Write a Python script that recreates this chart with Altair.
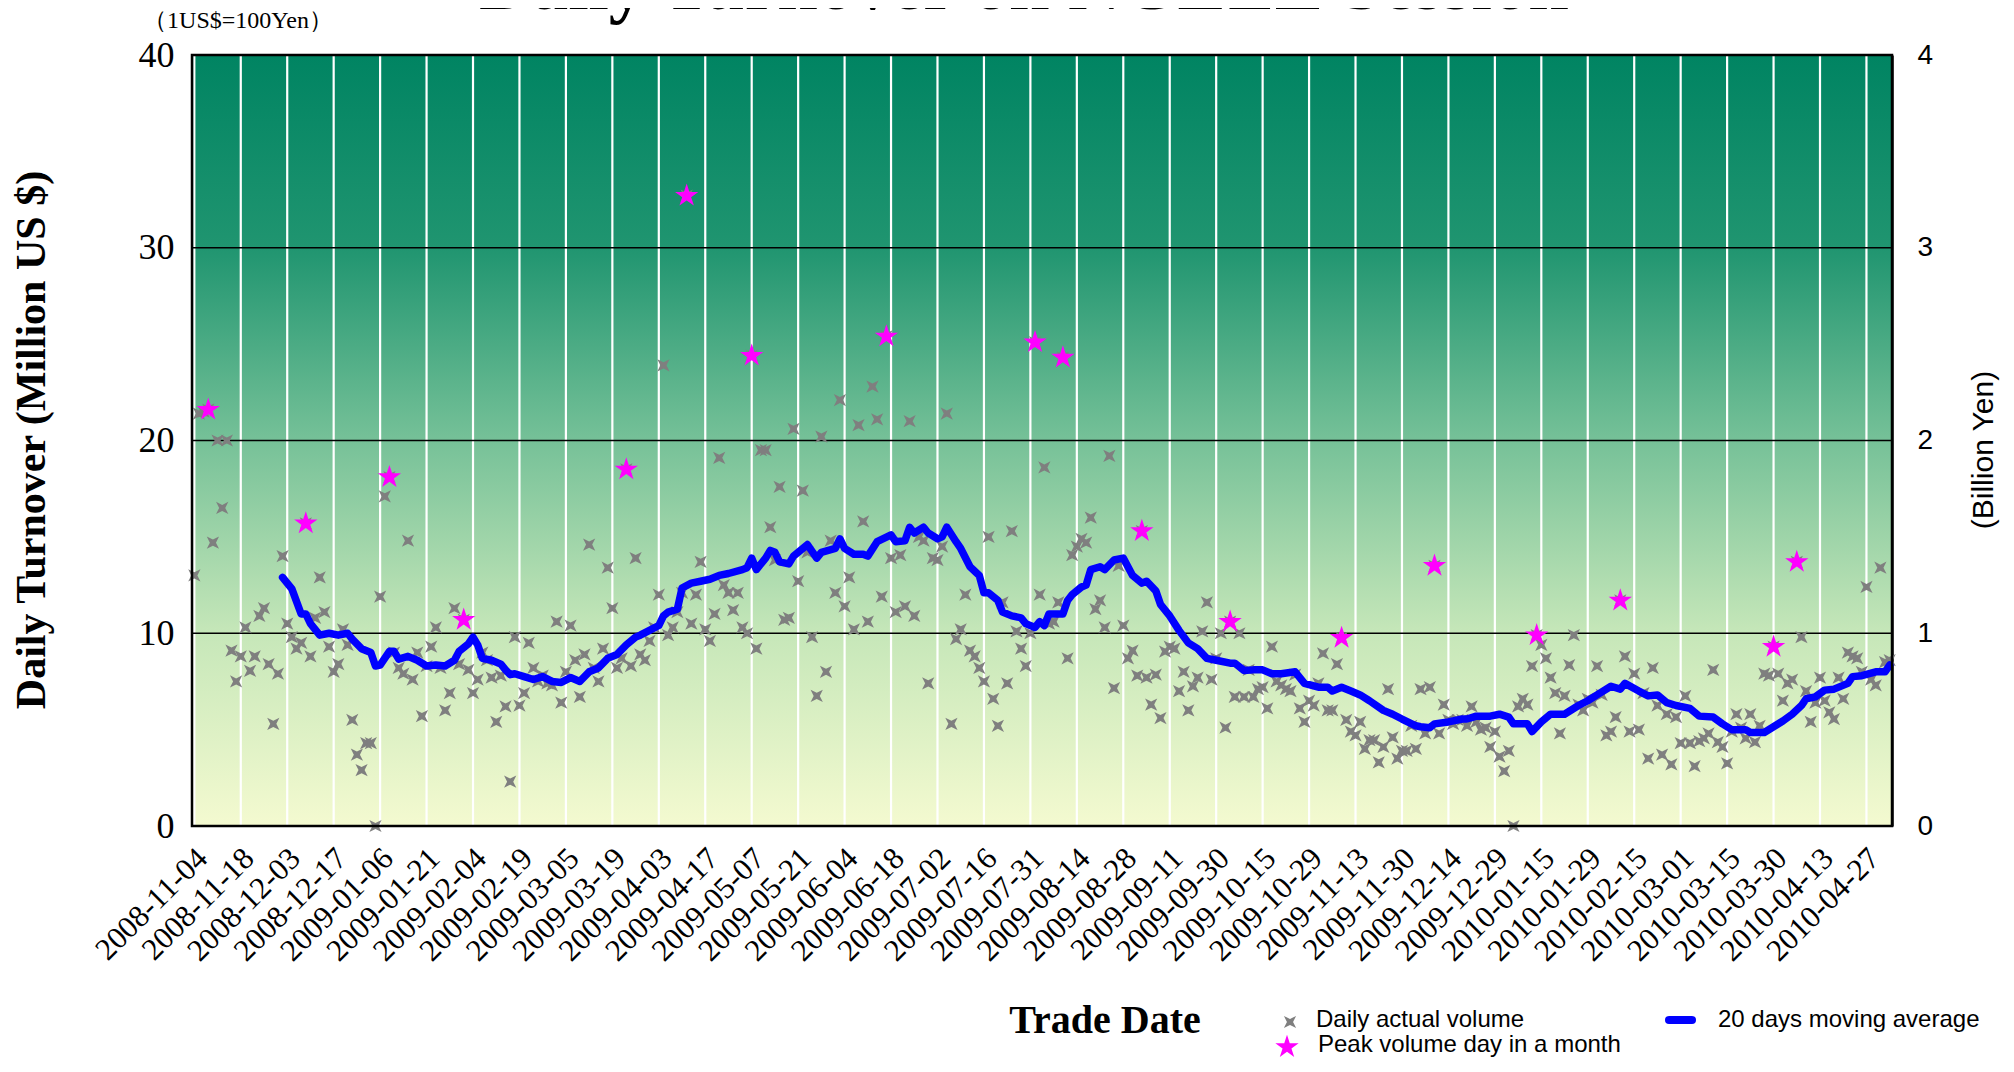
import altair as alt
import pandas as pd

# ---------------- data ----------------
date_labels = ["2008-11-04", "2008-11-18", "2008-12-03", "2008-12-17", "2009-01-06",
               "2009-01-21", "2009-02-04", "2009-02-19", "2009-03-05", "2009-03-19",
               "2009-04-03", "2009-04-17", "2009-05-07", "2009-05-21", "2009-06-04",
               "2009-06-18", "2009-07-02", "2009-07-16", "2009-07-31", "2009-08-14",
               "2009-08-28", "2009-09-11", "2009-09-30", "2009-10-15", "2009-10-29",
               "2009-11-13", "2009-11-30", "2009-12-14", "2009-12-29", "2010-01-15",
               "2010-01-29", "2010-02-15", "2010-03-01", "2010-03-15", "2010-03-30",
               "2010-04-13", "2010-04-27"]
label_step = 10  # trading days between two date labels

# daily actual volume (million US$), one per trading day
daily_volume = [
    13.0, 21.4, 21.5, 21.6, 14.7, 20.0, 16.5, 20.0, 9.1, 7.5,
    8.8, 10.3, 8.05, 8.8, 10.9, 11.3, 8.4, 5.3, 7.9, 14.0,
    10.5, 9.8, 9.2, 9.5, 15.7, 8.8, 10.8, 12.9, 11.1, 9.3,
    8.0, 8.4, 10.2, 9.4, 5.5, 3.7, 2.9, 4.3, 4.3, 0.0,
    11.9, 17.1, 18.1, 9.0, 8.2, 7.9, 14.8, 7.6, 9.0, 5.7,
    8.3, 9.3, 10.3, 8.2, 6.0, 6.9, 11.3, 8.4, 10.7, 8.1,
    6.9, 7.6, 9.0, 8.6, 7.7, 5.4, 7.8, 6.2, 2.3, 9.8,
    6.25, 6.9, 9.5, 8.2, 7.5, 7.8, 7.4, 7.3, 10.6, 6.4,
    8.0, 10.4, 8.6, 6.7, 8.9, 14.6, 8.2, 7.5, 9.2, 13.4,
    11.3, 8.2, 8.7, 18.5, 8.3, 13.9, 8.9, 8.6, 9.6, 10.3,
    12.0, 23.9, 9.9, 10.3, 11.1, 12.1, 32.7, 10.5, 12.0, 13.7,
    10.2, 9.6, 11.0, 19.1, 12.5, 12.1, 11.2, 12.1, 10.3, 10.0,
    24.4, 9.2, 19.5, 19.5, 15.5, 13.8, 17.6, 10.7, 10.8, 20.6,
    12.7, 17.4, 14.2, 9.8, 6.75, 20.2, 8.0, 14.8, 12.1, 22.1,
    11.4, 12.9, 10.2, 20.8, 15.8, 10.6, 22.8, 21.1, 11.9, 25.4,
    13.9, 11.1, 14.05, 11.4, 21.0, 10.9, 15.0, 14.8, 7.4, 13.9,
    13.8, 14.5, 21.4, 5.3, 9.7, 10.2, 12.0, 9.1, 8.8, 8.2,
    7.5, 15.0, 6.6, 5.2, 11.6, 7.4, 15.3, 10.1, 9.2, 8.3,
    10.0, 25.1, 12.0, 18.6, 10.5, 10.6, 11.6, 24.3, 8.7, 14.05,
    14.5, 14.9, 14.7, 16.0, 11.25, 11.7, 10.3, 19.2, 7.15, 13.5,
    10.4, 8.7, 9.1, 7.8, 15.3, 7.7, 6.3, 7.85, 5.6, 9.05,
    9.3, 9.2, 7.0, 8.0, 6.0, 7.25, 7.7, 10.1, 11.6, 7.6,
    8.7, 10.0, 5.1, 10.6, 6.7, 10.0, 6.7, 8.1, 6.7, 7.1,
    7.2, 6.1, 9.3, 7.5, 7.3, 7.1, 7.0, 7.85, 6.1, 5.4,
    6.5, 6.25, 7.4, 8.95, 6.0, 6.0, 8.4, 9.76, 5.5, 4.9,
    4.7, 5.4, 4.0, 4.45, 4.45, 3.3, 4.1, 7.1, 4.6, 3.5,
    3.9, 3.9, 5.2, 4.0, 7.1, 4.8, 7.2, 13.5, 4.8, 6.3,
    5.5, 5.3, 5.5, 5.5, 5.2, 6.2, 5.4, 5.0, 5.1, 4.1,
    4.9, 3.6, 2.85, 3.9, 0.0, 6.2, 6.6, 6.3, 8.3, 9.9,
    9.4, 8.7, 7.7, 6.9, 4.8, 6.75, 8.35, 9.9, 6.3, 6.0,
    6.6, 6.4, 8.3, 6.8, 4.7, 4.9, 5.65, 11.7, 8.8, 4.9,
    7.9, 5.0, 6.9, 3.5, 8.2, 6.25, 3.7, 5.8, 3.2, 5.65,
    4.3, 6.75, 4.3, 3.1, 4.4, 4.55, 4.8, 8.1, 4.35, 4.1,
    3.25, 4.9, 5.8, 5.1, 4.55, 5.8, 4.35, 5.2, 7.9, 7.8,
    9.3, 7.9, 6.5, 7.4, 7.6, 13.7, 9.8, 7.0, 5.4, 6.4,
    7.7, 6.5, 5.9, 5.55, 7.7, 6.6, 9.0, 8.8, 8.7, 8.0,
    12.4, 7.6, 7.3, 13.4, 8.5, 8.6,
]

# peak volume day in each month
peak_day = [3, 24, 42, 58, 93, 106, 120, 149, 181, 187, 204, 223, 247, 267, 289, 307, 340, 345]
peak_volume = [21.6, 15.7, 18.1, 10.7, 18.5, 32.7, 24.4, 25.4, 25.1, 24.3, 15.3, 10.6,
               9.76, 13.5, 9.9, 11.7, 9.3, 13.7]

# 20 days moving average (read at points along the curve)
ma_day = [19, 21, 23, 24, 25, 27, 29, 31, 33, 34, 36, 38, 39, 40, 42, 43, 44, 46, 48, 50,
          52, 54, 56, 57, 59, 60, 61, 62, 64, 66, 67, 68, 69, 71, 73, 75, 77, 79, 81, 83,
          85, 87, 89, 91, 93, 95, 96, 98, 100, 101, 102, 104, 105, 107, 109, 111, 113, 115, 118, 119,
          120, 121, 123, 124, 125, 126, 128, 129, 132, 134, 135, 138, 139, 140, 142, 144, 145, 147, 150, 151,
          153, 154, 155, 157, 158, 160, 161, 162, 164, 165, 167, 169, 170, 171, 173, 174, 176, 178, 179, 181,
          182, 183, 184, 187, 188, 189, 191, 192, 193, 195, 196, 198, 200, 202, 204, 205, 207, 208, 210, 212,
          214, 216, 218, 220, 223, 224, 226, 228, 230, 232, 234, 237, 239, 242, 244, 245, 247, 249, 251, 253,
          256, 258, 260, 263, 264, 266, 267, 270, 273, 274, 276, 279, 281, 283, 284, 287, 288, 290, 292, 295,
          298, 300, 302, 305, 307, 308, 311, 313, 315, 317, 319, 322, 324, 327, 329, 331, 334, 335, 338, 340,
          342, 344, 346, 347, 349, 351, 353, 356, 357, 359, 362, 364, 365]
ma_volume = [12.9, 12.3, 11.0, 11.0, 10.5, 9.9, 10.0, 9.9, 10.0, 9.7, 9.2, 9.0, 8.3, 8.35, 9.06, 9.06, 8.66, 8.8, 8.6, 8.3,
             8.35, 8.3, 8.6, 9.06, 9.45, 9.8, 9.4, 8.7, 8.6, 8.4, 8.1, 7.85, 7.9, 7.75, 7.6, 7.75, 7.5, 7.45, 7.7, 7.5,
             8.0, 8.2, 8.7, 8.9, 9.4, 9.8, 9.9, 10.15, 10.4, 10.9, 11.1, 11.25, 12.35, 12.6, 12.7, 12.8, 13.0, 13.1, 13.3, 13.4,
             13.9, 13.3, 13.9, 14.3, 14.2, 13.7, 13.6, 14.0, 14.6, 13.9, 14.2, 14.4, 14.9, 14.4, 14.1, 14.1, 14.0, 14.75, 15.1, 14.75,
             14.8, 15.5, 15.2, 15.5, 15.2, 14.9, 15.0, 15.5, 14.75, 14.4, 13.45, 13.0, 12.1, 12.1, 11.7, 11.1, 10.9, 10.8, 10.5, 10.3,
             10.6, 10.4, 11.0, 11.0, 11.7, 12.0, 12.4, 12.5, 13.3, 13.45, 13.3, 13.8, 13.9, 13.0, 12.6, 12.7, 12.2, 11.5, 10.9, 10.15,
             9.5, 9.2, 8.7, 8.6, 8.45, 8.45, 8.07, 8.1, 8.1, 7.9, 7.9, 8.0, 7.4, 7.2, 7.2, 7.0, 7.2, 7.0, 6.8, 6.5,
             6.0, 5.8, 5.55, 5.2, 5.15, 5.1, 5.3, 5.4, 5.55, 5.55, 5.7, 5.7, 5.8, 5.65, 5.3, 5.3, 4.9, 5.4, 5.8, 5.8,
             6.25, 6.5, 6.8, 7.25, 7.1, 7.4, 7.0, 6.75, 6.8, 6.4, 6.25, 6.1, 5.7, 5.65, 5.3, 5.0, 5.0, 4.85, 4.85, 5.15,
             5.45, 5.8, 6.25, 6.6, 6.7, 7.05, 7.1, 7.4, 7.75, 7.8, 8.0, 8.0, 8.35]

y_ticks = [0, 10, 20, 30, 40]
hgrid_values = [10, 20, 30]
yen_ticks = [0, 1, 2, 3, 4]

title_text = "Daily Turnover on NGEZE Session"
rate_text = "（1US$=100Yen）"
y_title = "Daily Turnover (Million US $)"
y2_title = "(Billion Yen)"
x_title = "Trade Date"
leg_daily = "Daily actual volume"
leg_peak = "Peak volume day in a month"
leg_ma = "20 days moving average"

# ---------------- chart ----------------
W, H = 1700, 771
SERIF = "Liberation Serif"
SANS = "Liberation Sans"
XMARK = "M-1,-1L0,-0.5L1,-1L0.5,0L1,1L0,0.5L-1,1L-0.5,0Z"
STAR = ("M0,-1L0.2245,-0.309L0.951,-0.309L0.3633,0.118L0.588,0.809L0,0.382"
        "L-0.588,0.809L-0.3633,0.118L-0.951,-0.309L-0.2245,-0.309Z")

label_days = [i * label_step for i in range(len(date_labels))]

xscale = alt.Scale(domain=[-0.5, len(daily_volume) - 0.5], nice=False, zero=False)
yscale = alt.Scale(domain=[0, 40], nice=False, zero=False)

daily_df = pd.DataFrame({"day": list(range(len(daily_volume))), "vol": daily_volume})
peak_df = pd.DataFrame({"day": peak_day, "vol": peak_volume})
ma_df = pd.DataFrame({"day": ma_day, "vol": ma_volume})
xlab_df = pd.DataFrame({"day": label_days, "label": date_labels})
hgrid_df = pd.DataFrame({"v": hgrid_values})
yen_df = pd.DataFrame({"yen": yen_ticks})
one = pd.DataFrame({"k": [0]})

gradient = alt.LinearGradient(
    gradient="linear", x1=0, y1=0, x2=0, y2=1,
    stops=[
        alt.GradientStop(offset=0.0, color="#008462"),
        alt.GradientStop(offset=0.25, color="#209570"),
        alt.GradientStop(offset=0.5, color="#76C198"),
        alt.GradientStop(offset=0.75, color="#C6E7B9"),
        alt.GradientStop(offset=1.0, color="#F4FAD0"),
    ],
)

bg = alt.Chart(one).mark_rect(fill=gradient, strokeWidth=0).encode(
    x=alt.value(0), x2=alt.value(W), y=alt.value(0), y2=alt.value(H))

vgrid = alt.Chart(xlab_df).mark_rule(color="#FFFFFF", strokeWidth=2.2).encode(
    x=alt.X("day:Q", scale=xscale, axis=None))

hgrid = alt.Chart(hgrid_df).mark_rule(color="#000000", strokeWidth=1.6).encode(
    y=alt.Y("v:Q", scale=yscale, axis=None))

border = alt.Chart(one).mark_rect(filled=False, stroke="#000000", strokeWidth=2.5).encode(
    x=alt.value(0), x2=alt.value(W), y=alt.value(0), y2=alt.value(H))

x_axis = alt.Axis(values=label_days, labels=False, ticks=False, grid=False,
                  domainColor="#000000", domainWidth=4, title=None)
y_axis = alt.Axis(orient="left", values=y_ticks, labelFont=SERIF, labelFontSize=36,
                  labelColor="#000000", labelPadding=18, ticks=False, grid=False,
                  domainColor="#000000", domainWidth=3, title=None, labelFlush=False)

points = alt.Chart(daily_df).mark_point(shape=XMARK, filled=True, color="#7F7F7F",
                                        size=150, opacity=1, strokeWidth=0).encode(
    x=alt.X("day:Q", scale=xscale, axis=x_axis),
    y=alt.Y("vol:Q", scale=yscale, axis=y_axis))

ma_line = alt.Chart(ma_df).mark_line(color="#0000FF", strokeWidth=7.5, strokeJoin="round",
                                     strokeCap="round").encode(
    x=alt.X("day:Q", scale=xscale, axis=None), y=alt.Y("vol:Q", scale=yscale, axis=None))

stars = alt.Chart(peak_df).mark_point(shape=STAR, filled=True, color="#FF00FF",
                                      size=600, opacity=1, strokeWidth=0).encode(
    x=alt.X("day:Q", scale=xscale, axis=None), y=alt.Y("vol:Q", scale=yscale, axis=None))

xlabels = alt.Chart(xlab_df).mark_text(angle=315, align="right", baseline="middle",
                                       font=SERIF, fontSize=31, color="#000000",
                                       dx=6, dy=6).encode(
    x=alt.X("day:Q", scale=xscale, axis=None), y=alt.value(H + 28), text="label:N")

right = alt.Chart(yen_df).mark_point(opacity=0).encode(
    y=alt.Y("yen:Q", scale=alt.Scale(domain=[0, 4], nice=False, zero=False),
            axis=alt.Axis(orient="right", values=yen_ticks, labelFont=SANS, labelFontSize=28,
                          labelColor="#000000", labelPadding=25, ticks=False, grid=False,
                          domainColor="#000000", domainWidth=2.5, title=None,
                          labelFlush=False)))


def note(text, x, y, **kw):
    return alt.Chart(one).mark_text(text=text, color="#000000", **kw).encode(
        x=alt.value(x), y=alt.value(y))


texts = [
    note(title_text, 832, -46, font=SERIF, fontSize=73, fontWeight="bold",
         align="center", baseline="alphabetic"),
    note(rate_text, 46, -34, font=SERIF, fontSize=24, align="center", baseline="middle"),
    note(y_title, -160, 385, font=SERIF, fontSize=42, fontWeight="bold", angle=270,
         align="center", baseline="middle"),
    note(y2_title, 1792, 395, font=SANS, fontSize=30, angle=270, align="center",
         baseline="middle"),
    note(x_title, 913, 966, font=SERIF, fontSize=40, fontWeight="bold", align="center",
         baseline="middle"),
    note(leg_daily, 1124, 965, font=SANS, fontSize=24, align="left", baseline="middle"),
    note(leg_peak, 1126, 990, font=SANS, fontSize=24, align="left", baseline="middle"),
    note(leg_ma, 1526, 965, font=SANS, fontSize=24, align="left", baseline="middle"),
]

leg_x = alt.Chart(one).mark_point(shape=XMARK, filled=True, color="#7F7F7F", size=150,
                                  opacity=1, strokeWidth=0).encode(
    x=alt.value(1098), y=alt.value(967))
leg_star = alt.Chart(one).mark_point(shape=STAR, filled=True, color="#FF00FF", size=600,
                                     opacity=1, strokeWidth=0).encode(
    x=alt.value(1095), y=alt.value(992))
leg_line = alt.Chart(one).mark_rule(color="#0000FF", strokeWidth=8, strokeCap="round").encode(
    x=alt.value(1477), x2=alt.value(1500), y=alt.value(965))

chart = alt.layer(bg, vgrid, hgrid, points, ma_line, stars, border, xlabels,
                  leg_x, leg_star, leg_line, right, *texts).resolve_scale(
    y="independent").properties(
    width=W, height=H,
    padding={"left": 184, "top": 47, "right": 110, "bottom": 234},
    autosize=alt.AutoSizeParams(type="none"),
    background="#FFFFFF",
).configure_view(stroke=None)

chart.save("out.html", embed_options={"renderer": "svg", "actions": False})
